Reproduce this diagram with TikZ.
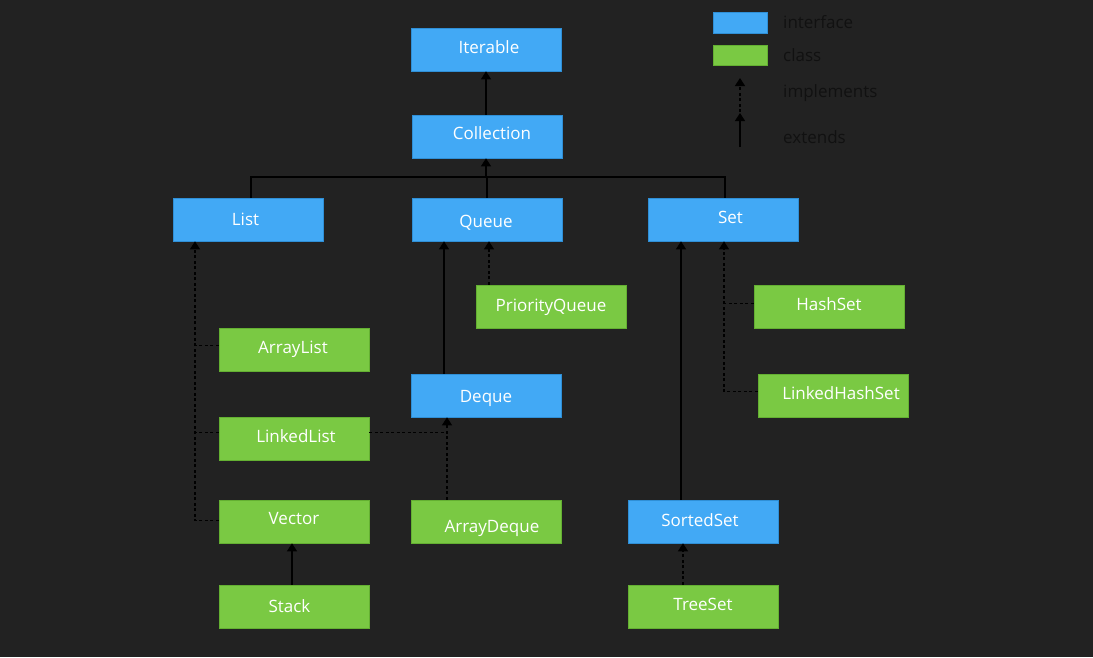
\documentclass[tikz,border=0pt]{standalone}
\usepackage{fontspec}
\setmainfont{Open Sans}
\usetikzlibrary{arrows.meta}
\definecolor{bgdark}{HTML}{222222}
\definecolor{ifblue}{HTML}{42A9F5}
\definecolor{ifblueedge}{HTML}{2F8FD6}
\definecolor{clgreen}{HTML}{7AC943}
\definecolor{clgreenedge}{HTML}{64B032}
\definecolor{legendtext}{HTML}{111111}
% move a label by (#1 right, #2 up) inside its box
\newcommand\shifted[3]{\hspace*{#1}\raisebox{#2}{#3}\hspace*{-#1}}
\tikzset{
  x=1pt, y=-1pt,
  box/.style={minimum width=150pt, minimum height=43pt, inner sep=0pt,
    text height=12pt, text depth=0pt,
    text=white, font=\fontsize{17}{20}\selectfont, line width=0.6pt},
  iface/.style={box, fill=ifblue, draw=ifblueedge},
  klass/.style={box, fill=clgreen, draw=clgreenedge},
  wire/.style={draw=black, line width=1.2pt},
  dashwire/.style={wire, dash pattern=on 3pt off 2.5pt},
  ext/.style={wire, -{Triangle[width=10pt,length=8pt]}},
  impl/.style={dashwire, -{Triangle[width=10pt,length=8pt]}},
  legendlabel/.style={anchor=west, inner sep=0pt, text=legendtext,
    text height=12pt, text depth=0pt, font=\fontsize{17}{20}\selectfont},
}
\begin{document}
\begin{tikzpicture}
\fill[bgdark] (0,0) rectangle (1093,657);
\useasboundingbox (0,0) rectangle (1093,657);

% interfaces
\node[iface] (iterable)   at (486,49.5)  {\shifted{3pt}{2.5pt}{Iterable}};
\node[iface] (collection) at (487,136.5) {\shifted{5pt}{3.5pt}{Collection}};
\node[iface] (list)       at (248,219.5) {\shifted{-2.5pt}{0pt}{List}};
\node[iface] (queue)      at (487,219.5) {\shifted{-1pt}{-2pt}{Queue}};
\node[iface] (set)        at (723,219.5) {\shifted{7.5pt}{2.5pt}{Set}};
\node[iface] (deque)      at (486,395.5) {\shifted{0pt}{-1pt}{Deque}};
\node[iface] (sortedset)  at (703,521.5) {\shifted{-3pt}{1.5pt}{SortedSet}};

% classes
\node[klass] (priorityqueue) at (551,306.5) {\shifted{0pt}{1.5pt}{PriorityQueue}};
\node[klass] (arraylist)     at (294,349.5) {\shifted{-1pt}{2pt}{ArrayList}};
\node[klass] (linkedlist)    at (294,438.5) {\shifted{2pt}{2pt}{LinkedList}};
\node[klass] (vector)        at (294,521.5) {\shifted{0pt}{3.5pt}{Vector}};
\node[klass] (stack)         at (294,606.5) {\shifted{-4.5pt}{0pt}{Stack}};
\node[klass] (arraydeque)    at (486,521.5) {\shifted{6pt}{-5pt}{ArrayDeque}};
\node[klass] (hashset)       at (829,306.5) {\shifted{0pt}{2pt}{HashSet}};
\node[klass] (linkedhashset) at (833,395.5) {\shifted{8pt}{2pt}{LinkedHashSet}};
\node[klass] (treeset)       at (703,606.5) {\shifted{0pt}{2pt}{TreeSet}};

% Collection extends Iterable
\draw[ext] (collection.north -| iterable.south) -- (iterable.south);

% List, Queue, Set extend Collection
\coordinate (hub) at (486,177);
\draw[wire] ([xshift=3pt]list.north) |- (hub) -| ([xshift=2pt]set.north);
\draw[wire] (queue.north) -- (queue.north |- hub);
\draw[ext] (hub) -- (hub |- collection.south);

% Queue branch
\draw[ext] ([xshift=-42pt]deque.north) -- ([xshift=-42pt]deque.north |- queue.south);
\draw[impl] ([xshift=-62pt]priorityqueue.north) -- ([xshift=-62pt]priorityqueue.north |- queue.south);

% List implementations
\coordinate (listspine) at ([xshift=-53pt]list.south);
\draw[impl] ([yshift=1pt]vector.west) -| (listspine);
\draw[dashwire] ([yshift=4pt]arraylist.west) -- ([yshift=4pt]arraylist.west -| listspine);
\draw[dashwire] ([yshift=6pt]linkedlist.west) -- ([yshift=6pt]linkedlist.west -| listspine);

% Deque implementations
\coordinate (dequetip) at ([xshift=-39pt]deque.south);
\draw[dashwire] ([yshift=6pt]linkedlist.east) -- ([yshift=6pt]linkedlist.east -| dequetip);
\draw[impl] ([xshift=-39pt]arraydeque.north) -- (dequetip);

% Stack extends Vector
\draw[ext] ([xshift=-2pt]stack.north) -- ([xshift=-2pt]vector.south);

% Set branch
\draw[ext] ([xshift=-22pt]sortedset.north) -- ([xshift=-22pt]sortedset.north |- set.south);
\coordinate (setspine) at ([xshift=1pt]set.south);
\draw[impl] ([yshift=4pt]linkedhashset.west) -| (setspine);
\draw[dashwire] ([yshift=3pt]hashset.west) -- ([yshift=3pt]hashset.west -| setspine);
\draw[impl] ([xshift=-20pt]treeset.north) -- ([xshift=-20pt]treeset.north |- sortedset.south);

% legend
\node[fill=ifblue, draw=ifblueedge, line width=0.6pt, minimum width=54pt, minimum height=21pt, inner sep=0pt] (keyiface) at (740,22.5) {};
\node[fill=clgreen, draw=clgreenedge, line width=0.6pt, minimum width=54pt, minimum height=20pt, inner sep=0pt] (keyclass) at (740,55) {};
\coordinate (keyimplfrom) at (740,112);
\coordinate (keyimplto)   at (740,78);
\coordinate (keyextfrom)  at (740,147);
\coordinate (keyextto)    at (740,113);
\draw[impl] (keyimplfrom) -- (keyimplto);
\draw[ext] (keyextfrom) -- (keyextto);
\node[legendlabel] (lbliface) at (783,22)  {interface};
\node[legendlabel] (lblclass) at (783,55)  {class};
\node[legendlabel] (lblimpl)  at (783,91)  {implements};
\node[legendlabel] (lblext)   at (783,137) {extends};
\end{tikzpicture}
\end{document}
